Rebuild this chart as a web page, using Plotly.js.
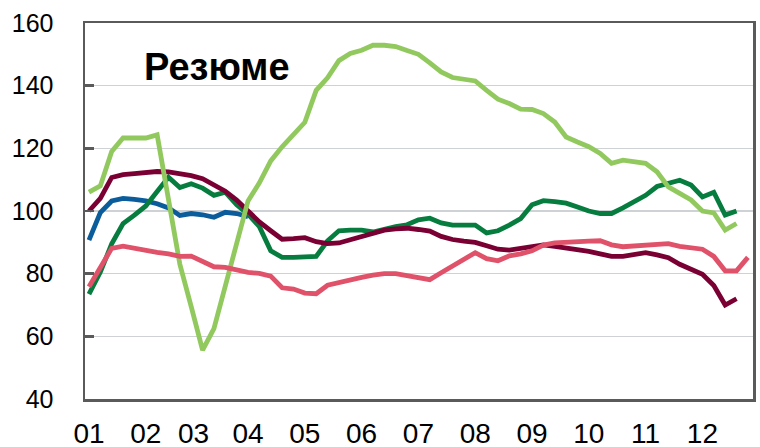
<!DOCTYPE html>
<html>
<head>
<meta charset="utf-8">
<script src="https://cdn.plot.ly/plotly-3.0.1.min.js"></script>
<style>html,body{margin:0;padding:0;background:#fff;}#chart{width:760px;height:447px;}</style>
</head>
<body>
<div id="chart"></div>
<script>
// Tick labels (years) and their period index on the x axis
var tickLabels = ['01','02','03','04','05','06','07','08','09','10','11','12'];
var tickPos = [0, 5, 9.2, 14, 19, 24, 29, 34, 39, 44, 49, 54];

// Series values (index-based periods)
var lightGreen = [106, 108, 119, 123.3, 123.3, 123.3, 124.3, 104, 83, 69.5, 55.6, 62.5, 76, 90, 103.2, 109, 116, 120.5, 124.5, 128.3, 138.5, 142.5, 148, 150.3, 151.3, 152.9, 152.9, 152.5, 151.2, 150, 147.3, 144.4, 142.6, 142, 141.5, 138.5, 135.7, 134.3, 132.5, 132.4, 131.1, 128.4, 123.6, 122, 120.5, 118.4, 115.2, 116.2, 115.8, 115.2, 112.5, 107.7, 105.6, 103.5, 100, 99.4, 93.9, 96];
var darkGreen = [73.5, 80.5, 89.5, 96, 98.7, 101.6, 106.2, 110.8, 107.5, 108.7, 107.3, 105, 106, 102, 99, 95, 87.3, 85.2, 85.2, 85.2, 85.5, 90.5, 93.7, 93.9, 93.9, 93.3, 94.2, 95, 95.6, 97.2, 97.7, 96.2, 95.5, 95.5, 95.5, 93, 93.7, 95.5, 97.6, 102, 103.3, 103, 102.5, 101.3, 100, 99.2, 99.2, 101, 103, 105, 107.8, 109, 109.8, 108.3, 104.5, 106, 98.7, 100];
var blue = [90.7, 99.5, 103.2, 104, 103.7, 103.2, 102.3, 101, 98.6, 99.2, 98.8, 98, 99.6, 99.2, 98.2];
var maroon = [100, 104, 110.7, 111.6, 111.9, 112.2, 112.6, 112.5, 112, 111.3, 110.3, 108.5, 106.3, 103.5, 100, 96.5, 93.7, 91, 91.2, 91.5, 90.2, 89.6, 89.8, 90.9, 91.8, 92.8, 93.9, 94.3, 94.5, 94.1, 93.6, 91.9, 90.9, 90.4, 90, 88.9, 87.8, 87.5, 88, 88.6, 89.2, 88.7, 88.2, 87.6, 87.1, 86.3, 85.5, 85.5, 86, 86.7, 86, 85.1, 83, 81.2, 79.8, 76.2, 70, 72];
var pink = [75.8, 81.7, 88.1, 88.8, 88.1, 87.2, 86.8, 86.3, 85.5, 85.6, 83.9, 82.2, 82, 81.1, 80.4, 80.1, 79.2, 75.5, 75.1, 73.8, 73.6, 76.3, 77.2, 78, 78.8, 79.5, 80, 80, 79.3, 78.7, 78.1, 80.3, 82.4, 84.6, 86.7, 84.8, 84.1, 85.7, 86.3, 87.3, 89.1, 89.8, 90.1, 90.3, 90.4, 90.5, 89.2, 88.6, 88.9, 89.2, 89.6, 89.6, 88.7, 88.3, 87.8, 85.5, 80.9, 80.9, 85.2];

function idx(arr){ return arr.map(function(_, i){ return i; }); }
function mk(arr, color){
  return {x: idx(arr), y: arr, type: 'scatter', mode: 'lines',
          line: {color: color, width: 4.8}, hoverinfo: 'skip', showlegend: false};
}

var data = [
  mk(blue, '#0B5C9B'),
  mk(darkGreen, '#067D3E'),
  mk(maroon, '#7A0034'),
  mk(lightGreen, '#92C95F'),
  mk(pink, '#E0516A')
];

var layout = {
  width: 760, height: 447,
  margin: {l: 85, r: 7, t: 23, b: 48, pad: 0},
  paper_bgcolor: '#ffffff', plot_bgcolor: '#ffffff',
  font: {family: '"Liberation Sans", Arial, sans-serif', color: '#000'},
  showlegend: false,
  xaxis: {
    range: [-0.35, 58.45], tickmode: 'array', tickvals: tickPos, ticktext: tickLabels,
    showgrid: false, zeroline: false, ticks: '', showline: true, linecolor: '#5a5a5a', linewidth: 2.5,
    mirror: true, tickfont: {size: 28, color: '#000'}, ticklabelstandoff: 8, fixedrange: true
  },
  yaxis: {
    range: [40, 160], tickmode: 'array', tickvals: [40, 60, 80, 100, 120, 140, 160],
    ticktext: ['40','60','80','100','120','140','160'],
    showgrid: true, gridcolor: '#cfd2d5', gridwidth: 1.5, zeroline: false,
    ticks: 'inside', ticklen: 9, tickwidth: 2.5, tickcolor: '#5a5a5a',
    showline: true, linecolor: '#5a5a5a', linewidth: 2.5, mirror: true,
    tickfont: {size: 25, color: '#000'}, ticklabelstandoff: 24, fixedrange: true
  },
  annotations: [{
    text: '<b>Резюме</b>', xref: 'paper', yref: 'paper', x: 0.085, y: 0.882,
    xanchor: 'left', yanchor: 'middle', showarrow: false,
    font: {size: 38, color: '#000', family: '"Liberation Sans", Arial, sans-serif'}
  }]
};

Plotly.newPlot('chart', data, layout, {displayModeBar: false, staticPlot: true});
</script>
</body>
</html>
